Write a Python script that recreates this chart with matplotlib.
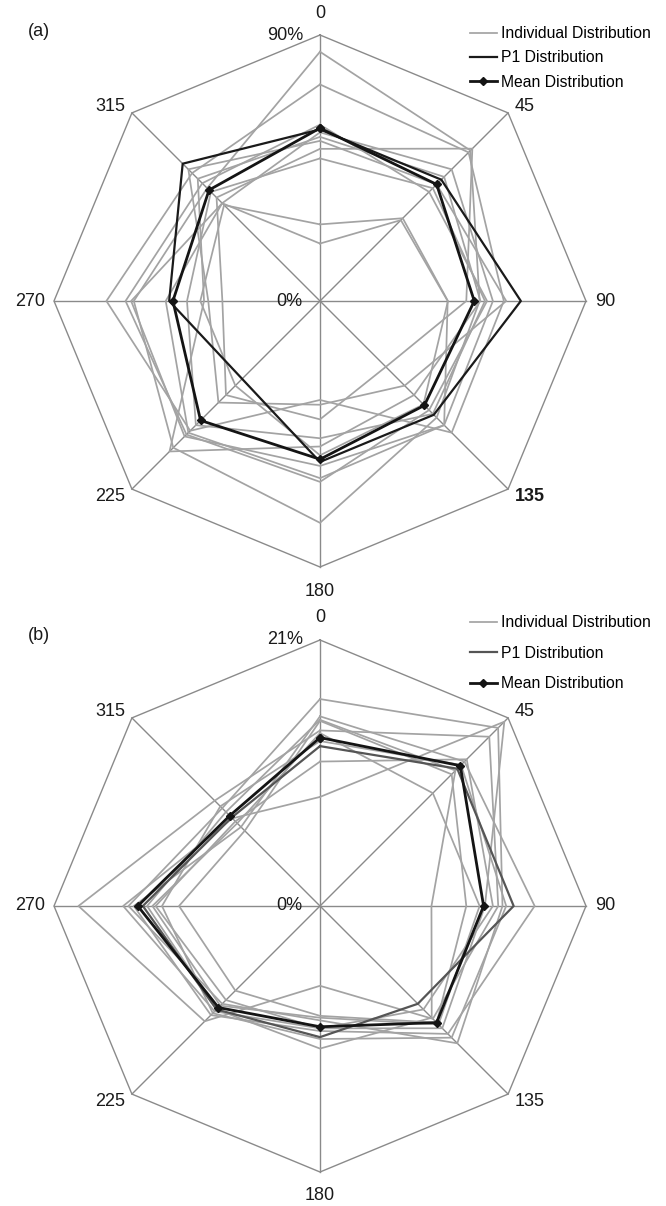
import matplotlib
matplotlib.use("Agg")
import matplotlib.pyplot as plt
import numpy as np

plt.rcParams['font.family'] = ['Liberation Sans', 'DejaVu Sans']

# compass directions, clockwise from north
directions = [0, 45, 90, 135, 180, 225, 270, 315]
dir_labels = ["0", "45", "90", "135", "180", "225", "270", "315"]

# (a) values as fraction of the 90% outer ring
indiv_a = [
    [0.937, 0.80, 0.60, 0.62, 0.834, 0.78, 0.70, 0.60],
    [0.814, 0.79, 0.691, 0.70, 0.372, 0.69, 0.803, 0.68],
    [0.663, 0.58, 0.628, 0.58, 0.68, 0.71, 0.731, 0.626],
    [0.634, 0.70, 0.65, 0.66, 0.666, 0.70, 0.58, 0.52],
    [0.617, 0.66, 0.603, 0.50, 0.547, 0.80, 0.436, 0.65],
    [0.602, 0.62, 0.70, 0.45, 0.39, 0.54, 0.42, 0.70],
    [0.572, 0.81, 0.55, 0.35, 0.445, 0.50, 0.367, 0.55],
    [0.536, 0.60, 0.62, 0.60, 0.516, 0.66, 0.50, 0.58],
    [0.288, 0.44, 0.481, 0.55, 0.58, 0.45, 0.45, 0.51],
    [0.216, 0.43, 0.48, 0.66, 0.62, 0.72, 0.71, 0.52],
]
p1_a = [0.645, 0.645, 0.755, 0.605, 0.605, 0.414, 0.567, 0.73]
mean_a = [0.65, 0.62, 0.58, 0.555, 0.595, 0.635, 0.553, 0.59]

# (b) values as fraction of the 21% outer ring
indiv_b = [
    [0.41, 0.98, 0.62, 0.65, 0.46, 0.56, 0.74, 0.466],
    [0.70, 0.72, 0.419, 0.594, 0.536, 0.55, 0.65, 0.50],
    [0.66, 0.90, 0.67, 0.60, 0.30, 0.613, 0.908, 0.56],
    [0.778, 0.947, 0.686, 0.73, 0.43, 0.52, 0.72, 0.52],
    [0.713, 0.768, 0.807, 0.68, 0.47, 0.58, 0.70, 0.42],
    [0.696, 0.70, 0.55, 0.62, 0.413, 0.45, 0.53, 0.40],
    [0.543, 0.78, 0.65, 0.55, 0.46, 0.50, 0.618, 0.45],
    [0.62, 0.75, 0.70, 0.70, 0.50, 0.57, 0.594, 0.53],
    [0.65, 0.60, 0.60, 0.63, 0.42, 0.53, 0.63, 0.44],
]
p1_b = [0.601, 0.73, 0.728, 0.52, 0.493, 0.55, 0.666, 0.47]
mean_b = [0.633, 0.746, 0.615, 0.62, 0.454, 0.54, 0.685, 0.48]

W, H = 666, 1206
R = 266.0  # outer ring radius in pixels

fig = plt.figure(figsize=(W / 100, H / 100), dpi=100)
theta = np.radians(directions)


def xy(vals):
    v = np.append(vals, vals[0])
    t = np.append(theta, theta[0])
    return v * np.sin(t), v * np.cos(t)


def radar(ax, cx, cy, indiv, p1, mean, top_label, tag, p1_color, leg_space, leg_y):
    # cx, cy are the centre in pixels inside the 666x603 panel
    ax.set_xlim(-cx / R, (W - cx) / R)
    ax.set_ylim(-(603 - cy) / R, cy / R)
    ax.axis("off")

    grid = "#8a8a8a"
    ox, oy = xy(np.ones(8))
    ax.plot(ox, oy, color=grid, lw=1.0, zorder=1)
    for t in theta:
        ax.plot([0, np.sin(t)], [0, np.cos(t)], color=grid, lw=1.0, zorder=1)

    for i, s in enumerate(indiv):
        x, y = xy(s)
        ax.plot(x, y, color="#a3a3a3", lw=1.25, zorder=2,
                label="Individual Distribution" if i == 0 else None)
    x, y = xy(p1)
    ax.plot(x, y, color=p1_color, lw=1.6, zorder=3, label="P1 Distribution")
    x, y = xy(mean)
    ax.plot(x, y, color="#141414", lw=2.0, marker="D", ms=4, zorder=4,
            label="Mean Distribution")

    offsets = {
        0: (0, 22, "center", "center"),
        45: (7, 6, "left", "center"),
        90: (9, 0, "left", "center"),
        135: (7, -7, "left", "center"),
        180: (0, -24, "center", "center"),
        225: (-7, -7, "right", "center"),
        270: (-9, 0, "right", "center"),
        315: (-7, 6, "right", "center"),
    }
    for d, lab, t in zip(directions, dir_labels, theta):
        dx, dy, ha, va = offsets[d]
        weight = "bold" if (tag == "(a)" and d == 135) else "normal"
        ax.annotate(lab, (np.sin(t), np.cos(t)), xytext=(dx * 0.72, dy * 0.72),
                    textcoords="offset points", ha=ha, va=va, fontsize=13,
                    fontweight=weight, color="#1a1a1a")

    ax.annotate(top_label, (0, 1), xytext=(-12, 0), textcoords="offset points",
                ha="right", va="center", fontsize=13, color="#1a1a1a")
    ax.annotate("0%", (0, 0), xytext=(-13, 0), textcoords="offset points",
                ha="right", va="center", fontsize=13, color="#1a1a1a")
    ax.text(28 / W, 1 - 32 / 603, tag, transform=ax.transAxes, ha="left",
            va="center", fontsize=13, color="#1a1a1a")

    ax.legend(loc="upper left", bbox_to_anchor=(470 / W, 1 - leg_y / 603),
              bbox_transform=ax.transAxes, frameon=False, fontsize=11.3,
              handlelength=1.7, handletextpad=0.25, labelspacing=leg_space,
              borderpad=0, borderaxespad=0, markerscale=0.9)


ax_a = fig.add_axes([0, 0.5, 1, 0.5])
radar(ax_a, 320, 301, indiv_a, p1_a, mean_a, "90%", "(a)", "#1a1a1a", 0.6, 26)

ax_b = fig.add_axes([0, 0, 1, 0.5])
radar(ax_b, 320, 303, indiv_b, p1_b, mean_b, "21%", "(b)", "#555555", 1.0, 12)

fig.savefig("out.png", dpi=100)
